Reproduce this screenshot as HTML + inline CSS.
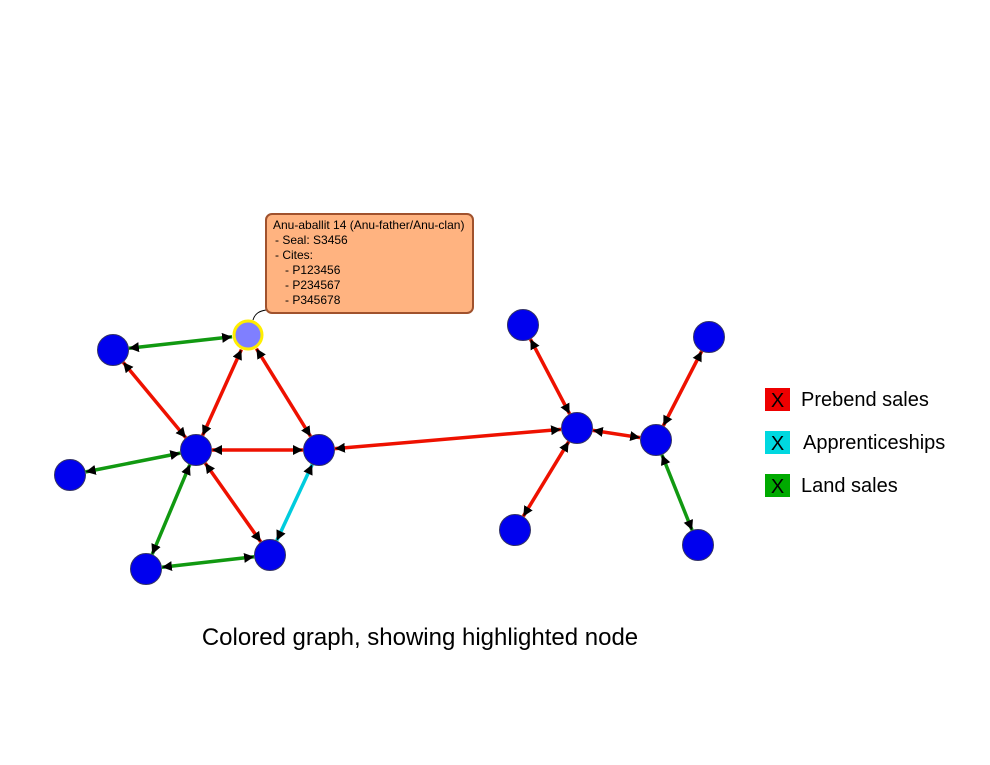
<!DOCTYPE html>
<html><head><meta charset="utf-8"><style>
html,body{margin:0;padding:0;background:#fff;}
svg{display:block;}
text{font-family:"Liberation Sans",Arial,sans-serif;}
</style></head><body>
<svg id="s" width="990" height="765" viewBox="0 0 990 765" xmlns="http://www.w3.org/2000/svg">
<defs>
<marker id="ah" viewBox="0 0 10 10" refX="10" refY="5" markerWidth="10" markerHeight="10" markerUnits="userSpaceOnUse" orient="auto-start-reverse">
<path d="M0,0 L10,5 L0,10 z" fill="#000"/></marker>
</defs>
<g id="edges"></g>
<g id="nodes"></g>
<path d="M253,320 C255,313 260,311 266,310" fill="none" stroke="#000" stroke-width="1"/>
<rect x="266" y="214" width="207" height="99" rx="6" fill="#ffb380" stroke="#a0522d" stroke-width="2"/>
<text font-size="12" fill="#000">
<tspan x="273" y="229">Anu-aballit 14 (Anu-father/Anu-clan)</tspan>
<tspan x="275" y="244">- Seal: S3456</tspan>
<tspan x="275" y="259">- Cites:</tspan>
<tspan x="285" y="274">- P123456</tspan>
<tspan x="285" y="289">- P234567</tspan>
<tspan x="285" y="304">- P345678</tspan>
</text>
<rect x="765" y="388" width="25" height="23" fill="#ee0000"/>
<text x="777.5" y="407" font-size="20" text-anchor="middle">X</text>
<text x="801" y="406" font-size="20">Prebend sales</text>
<rect x="765" y="431" width="25" height="23" fill="#00d8e0"/>
<text x="777.5" y="450" font-size="20" text-anchor="middle">X</text>
<text x="803" y="449" font-size="20">Apprenticeships</text>
<rect x="765" y="474" width="25" height="23" fill="#00aa00"/>
<text x="777.5" y="493" font-size="20" text-anchor="middle">X</text>
<text x="801" y="492" font-size="20">Land sales</text>
<text x="420" y="645" font-size="24" text-anchor="middle">Colored graph, showing highlighted node</text>
</svg>
<script>
var N={A:[113,350],H:[248,335],C:[196,450],D:[319,450],E:[70,475],F:[146,569],G:[270,555],
R1:[523,325],R2:[577,428],R3:[709,337],R4:[656,440],R5:[515,530],R6:[698,545]};
var red="#ee1100",grn="#119911",cy="#00ccdd";
var E=[["A","H",grn],["A","C",red],["H","C",red],["H","D",red],["C","D",red],["E","C",grn],["C","F",grn],["C","G",red],["F","G",grn],["D","G",cy],
["D","R2",red],["R1","R2",red],["R2","R5",red],["R2","R4",red],["R3","R4",red],["R4","R6",grn]];
var ns="http://www.w3.org/2000/svg",ge=document.getElementById("edges"),gn=document.getElementById("nodes");
E.forEach(function(e){var a=N[e[0]],b=N[e[1]],dx=b[0]-a[0],dy=b[1]-a[1],L=Math.hypot(dx,dy),r=16;
var l=document.createElementNS(ns,"line");
l.setAttribute("x1",a[0]+dx/L*r);l.setAttribute("y1",a[1]+dy/L*r);
l.setAttribute("x2",b[0]-dx/L*r);l.setAttribute("y2",b[1]-dy/L*r);
l.setAttribute("stroke",e[2]);l.setAttribute("stroke-width","3.5");
l.setAttribute("marker-start","url(#ah)");l.setAttribute("marker-end","url(#ah)");ge.appendChild(l);});
for(var k in N){var c=document.createElementNS(ns,"circle");c.setAttribute("cx",N[k][0]);c.setAttribute("cy",N[k][1]);c.setAttribute("r",15.5);
if(k=="H"){c.setAttribute("fill","#7f7fff");c.setAttribute("stroke","#ffee00");c.setAttribute("stroke-width","3");c.setAttribute("r",14);}
else{c.setAttribute("fill","#0000ee");c.setAttribute("stroke","#333366");c.setAttribute("stroke-width","1");}
gn.appendChild(c);}
</script>
</body></html>
